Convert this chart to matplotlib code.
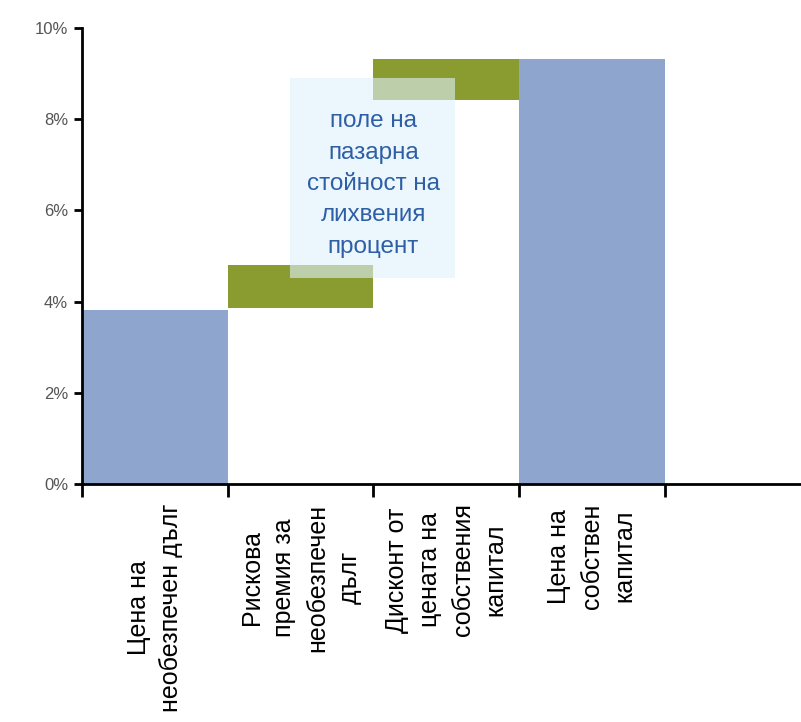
import matplotlib.pyplot as plt
from matplotlib.patches import Rectangle
from matplotlib.ticker import FuncFormatter

plt.rcParams['font.family'] = ['Liberation Sans', 'DejaVu Sans']

# Data (percent)
categories = ['Цена на\nнеобезпечен дълг',
              'Рискова\nпремия за\nнеобезпечен\nдълг',
              'Дисконт от\nцената на\nсобствения\nкапитал',
              'Цена на\nсобствен\nкапитал']
bottoms = [0.0, 3.85, 8.42, 0.0]
tops = [3.82, 4.8, 9.32, 9.32]
kinds = ['total', 'step', 'step', 'total']
note = 'поле на\nпазарна\nстойност на\nлихвения\nпроцент'

colors = {'total': '#8ea5cd', 'step': '#8a9b30'}

fig = plt.figure(figsize=(8.01, 7.22), dpi=100)
ax = fig.add_axes([82 / 801, 238 / 722, 1 - 82 / 801 + 0.01, 456 / 722])

pos = list(range(len(categories)))
heights = [t - b for t, b in zip(tops, bottoms)]
ax.bar(pos, heights, bottom=bottoms, width=1.0, align='edge',
       color=[colors[k] for k in kinds], edgecolor='none', zorder=2)

# annotation box
ax.add_patch(Rectangle((1.43, 4.52), 1.13, 4.38, facecolor='#dff1fd',
                       edgecolor='none', alpha=0.6, zorder=3))
ax.text(2.0, 6.58, note, ha='center', va='center', fontsize=17.5,
        color='#2e5fa6', linespacing=1.55, zorder=4)

ax.set_xlim(0, 4.99)
ax.set_ylim(0, 10)
ax.set_yticks([0, 2, 4, 6, 8, 10])
ax.yaxis.set_major_formatter(FuncFormatter(lambda v, p: f'{v:.0f}%'))

ax.set_xticks([0, 1, 2, 3, 4])
ax.set_xticklabels([])
ax.set_xticks([p + 0.5 for p in pos], minor=True)
ax.set_xticklabels(categories, minor=True, rotation=90, ha='center', va='top',
                   fontsize=18, linespacing=1.45, multialignment='center')
ax.tick_params(axis='x', which='minor', length=0, pad=14)
ax.tick_params(axis='x', which='major', length=9, width=2, direction='out')
ax.tick_params(axis='y', length=6, width=2, direction='out', labelsize=12,
               labelcolor='#555555', pad=4)

for s in ['top', 'right']:
    ax.spines[s].set_visible(False)
for s in ['left', 'bottom']:
    ax.spines[s].set_linewidth(2)

fig.savefig('out.png', dpi=100)
